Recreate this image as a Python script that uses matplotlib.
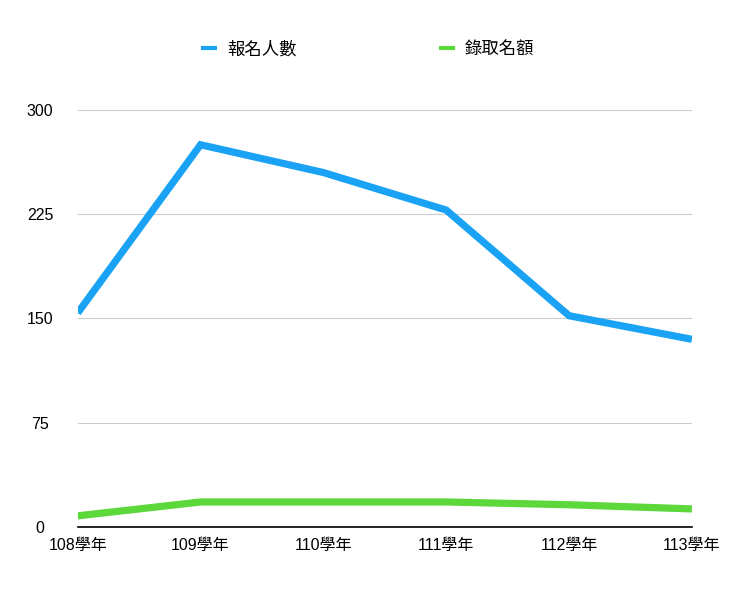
import matplotlib
matplotlib.use("Agg")
import matplotlib.pyplot as plt

plt.rcParams['font.family'] = ['Liberation Sans', 'Noto Sans CJK TC']

years = ["108學年", "109學年", "110學年", "111學年", "112學年", "113學年"]
applicants = [154, 275, 255, 228, 152, 135]
admitted = [8, 18, 18, 18, 16, 13]
yticks = [0, 75, 150, 225, 300]

fig = plt.figure(figsize=(7.4, 6.02), dpi=100)
ax = fig.add_axes([0.105, 0.1246, 0.83, 0.6927])

x = list(range(len(years)))
ax.plot(x, applicants, color="#1AA3F5", lw=5.2, label="報名人數", solid_capstyle="butt", solid_joinstyle="miter")
ax.plot(x, admitted, color="#5CD83A", lw=5.2, label="錄取名額", solid_capstyle="butt", solid_joinstyle="miter")

ax.set_xlim(0, len(years) - 1)
ax.set_ylim(0, 300)
ax.set_yticks(yticks)
ax.set_xticks(x)
ax.set_xticklabels(years, fontsize=11.5)
ax.tick_params(axis="y", labelsize=11.5, length=0, pad=27)
ax.tick_params(axis="x", length=0, pad=8)
for lab in ax.get_yticklabels():
    lab.set_horizontalalignment("center")

ax.grid(axis="y", color="#CCCCCC", lw=0.8)
ax.set_axisbelow(True)
for s in ["top", "right", "left"]:
    ax.spines[s].set_visible(False)
ax.spines["bottom"].set_color("black")
ax.spines["bottom"].set_linewidth(1.2)
ax.spines["bottom"].set_zorder(5)

leg = fig.legend(loc="upper center", bbox_to_anchor=(0.497, 0.958), ncol=2, frameon=False,
                 fontsize=12.5, handlelength=0.9, handletextpad=0.6, columnspacing=8.2)
for line in leg.get_lines():
    line.set_linewidth(3)

fig.savefig("out.png", dpi=100)
